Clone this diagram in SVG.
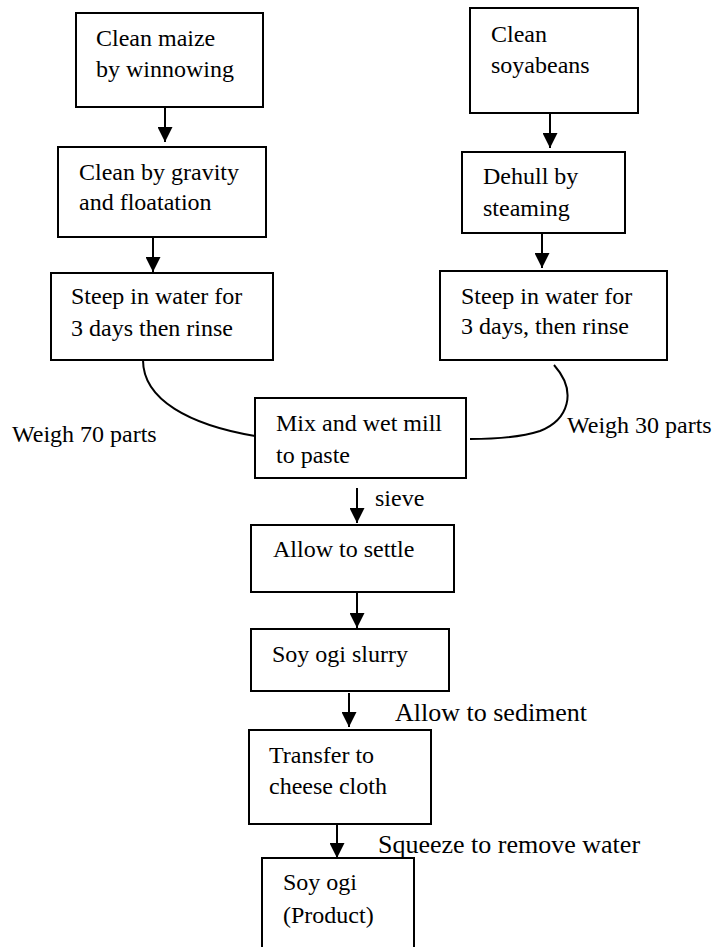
<svg xmlns="http://www.w3.org/2000/svg" width="715" height="947" viewBox="0 0 715 947">
<defs>
<marker id="ah" markerUnits="userSpaceOnUse" markerWidth="15" markerHeight="15" refX="15" refY="7.5" orient="auto">
<path d="M0,0 L15,7.5 L0,15 z" fill="#000"/>
</marker>
<style>
.box{fill:#fff;stroke:#000;stroke-width:2}
.t{font-family:"Liberation Serif","Times New Roman",serif;font-size:24px;fill:#000}
.big{font-size:26px}
.c{fill:none;stroke:#000;stroke-width:2}
.a{stroke:#000;stroke-width:2;marker-end:url(#ah)}
</style>
</defs>
<rect width="715" height="947" fill="#fff"/>
<g id="connectors">
<line class="a" x1="165" y1="107" x2="165" y2="142"/>
<line class="a" x1="153" y1="237" x2="153" y2="272"/>
<line class="a" x1="550" y1="113" x2="550" y2="148"/>
<line class="a" x1="542" y1="233" x2="542" y2="268"/>
<path class="c" d="M143,360 C143,400 190,425 255,436"/>
<path class="c" d="M554,365 C578,392 568,420 540,431 Q515,439 470,439"/>
<line class="a" x1="357" y1="488" x2="357" y2="523"/>
<line class="a" x1="357" y1="592" x2="357" y2="628"/>
<line class="a" x1="349" y1="693" x2="349" y2="727"/>
<line class="a" x1="337" y1="824" x2="337" y2="858"/>
<text class="t" x="12" y="442">Weigh 70 parts</text>
<text class="t" x="567" y="433">Weigh 30 parts</text>
<text class="t" x="375" y="506">sieve</text>
<text class="t big" x="395" y="721">Allow to sediment</text>
<text class="t big" x="378" y="853">Squeeze to remove water</text>
</g>
<g id="n1"><rect class="box" x="76" y="13" width="187" height="94"/><text class="t" x="96" y="46">Clean maize</text><text class="t" x="96" y="77">by winnowing</text></g>
<g id="n2"><rect class="box" x="58" y="147" width="208" height="90"/><text class="t" x="79" y="180">Clean by gravity</text><text class="t" x="79" y="210">and floatation</text></g>
<g id="n3"><rect class="box" x="51" y="273" width="222" height="87"/><text class="t" x="71" y="304">Steep in water for</text><text class="t" x="71" y="336">3 days then rinse</text></g>
<g id="n4"><rect class="box" x="470" y="8" width="168" height="105"/><text class="t" x="491" y="42">Clean</text><text class="t" x="491" y="73">soyabeans</text></g>
<g id="n5"><rect class="box" x="462" y="152" width="163" height="81"/><text class="t" x="483" y="184">Dehull by</text><text class="t" x="483" y="216">steaming</text></g>
<g id="n6"><rect class="box" x="440" y="271" width="227" height="89"/><text class="t" x="461" y="304">Steep in water for</text><text class="t" x="461" y="334">3 days, then rinse</text></g>
<g id="n7"><rect class="box" x="255" y="398" width="211" height="80"/><text class="t" x="276" y="431">Mix and wet mill</text><text class="t" x="276" y="463">to paste</text></g>
<g id="n8"><rect class="box" x="251" y="525" width="203" height="67"/><text class="t" x="273" y="557">Allow to settle</text></g>
<g id="n9"><rect class="box" x="251" y="629" width="198" height="62"/><text class="t" x="272" y="662">Soy ogi slurry</text></g>
<g id="n10"><rect class="box" x="249" y="730" width="182" height="94"/><text class="t" x="269" y="763">Transfer to</text><text class="t" x="269" y="794">cheese cloth</text></g>
<g id="n11"><rect class="box" x="262" y="858" width="152" height="110"/><text class="t" x="283" y="890">Soy ogi</text><text class="t" x="283" y="923">(Product)</text></g>
</svg>
